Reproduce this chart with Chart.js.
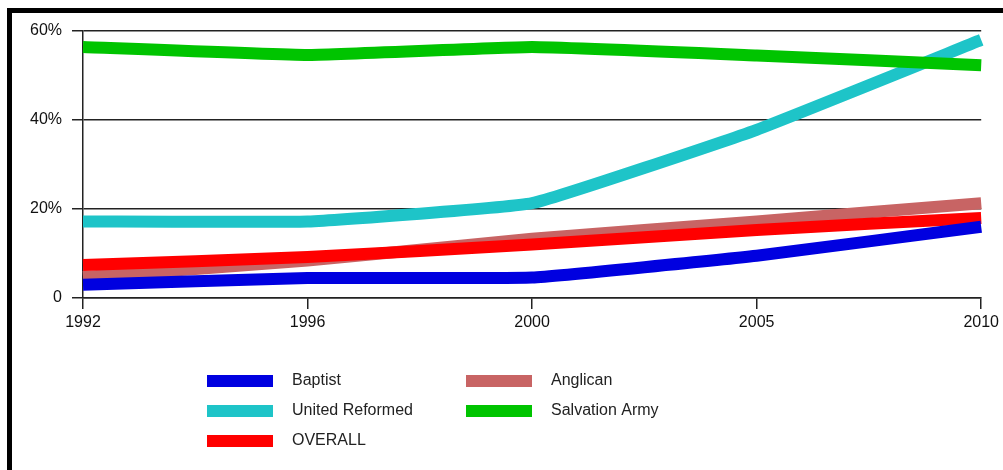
<!DOCTYPE html>
<html lang="en">
  <head>
    <meta charset="UTF-8" />
    <title>Denomination trend</title>
    <style>
      html,
      body {
        margin: 0;
        padding: 0;
        background: #fff;
        overflow: hidden;
      }
      #wrap {
        position: relative;
        width: 1003px;
        height: 470px;
      }
      #frame {
        position: absolute;
        left: 7px;
        top: 8px;
        right: 0;
        bottom: 0;
        border-left: 5px solid #000;
        border-top: 5px solid #000;
        pointer-events: none;
      }
    </style>
  </head>
  <body>
    <div id="wrap">
      <canvas id="myChart" width="1003" height="470"></canvas>
      <div id="frame"></div>
    </div>

    <script src="https://cdn.jsdelivr.net/npm/chart.js@4/dist/chart.umd.min.js"></script>
    <script>
      var years = ["1992", "1996", "2000", "2005", "2010"];

      var baptist = [3.0, 4.5, 4.6, 9.5, 16];
      var unitedReformed = [17.2, 17.2, 21.3, 37.8, 58];
      var overall = [7.4, 9.2, 12, 15.3, 18];
      var anglican = [4.7, 8.4, 13.3, 17.2, 21.3];
      var salvationArmy = [56.4, 54.6, 56.4, 54.5, 52.3];

      var yTicks = [0, 20, 40, 60];

      // legend drawn by hand: two columns, three rows
      var legendPlugin = {
        id: "sideLegend",
        afterDraw: function (chart) {
          var ctx = chart.ctx;
          var cols = [207, 466];
          var rows = [381, 411, 441];
          ctx.save();
          ctx.font = "16px 'Liberation Sans', Arial, sans-serif";
          ctx.textBaseline = "middle";
          chart.data.datasets.forEach(function (ds, i) {
            var x = cols[Math.floor(i / 3)];
            var y = rows[i % 3];
            ctx.fillStyle = ds.borderColor;
            ctx.fillRect(x, y - 6, 66, 12);
            ctx.fillStyle = "#222";
            ctx.fillText(ds.label, x + 85, y);
          });
          ctx.restore();
        },
      };

      function line(label, data, color, order) {
        return {
          label: label,
          data: data,
          borderColor: color,
          backgroundColor: color,
          borderWidth: 12,
          borderCapStyle: "butt",
          pointRadius: 0,
          tension: 0.1,
          fill: false,
          order: order,
        };
      }

      var ctx = document.getElementById("myChart").getContext("2d");
      var myChart = new Chart(ctx, {
        type: "line",
        data: {
          labels: years,
          datasets: [
            line("Baptist", baptist, "#0000e0", 1),
            line("United Reformed", unitedReformed, "#1ec4c8", 4),
            line("OVERALL", overall, "#ff0000", 2),
            line("Anglican", anglican, "#c86464", 5),
            line("Salvation Army", salvationArmy, "#00c400", 3),
          ],
        },
        options: {
          responsive: false,
          animation: false,
          layout: {
            padding: { left: 0, top: 31, right: 20, bottom: 132 },
          },
          plugins: {
            legend: { display: false },
            tooltip: { enabled: false },
          },
          scales: {
            x: {
              offset: false,
              grid: {
                drawOnChartArea: false,
                drawTicks: true,
                tickLength: 11,
                color: "#222",
                lineWidth: 1.5,
              },
              border: { display: true, color: "#222", width: 1.5 },
              ticks: {
                color: "#111",
                padding: 4,
                maxRotation: 0,
                font: { family: "'Liberation Sans', Arial, sans-serif", size: 16 },
              },
              afterFit: function (scale) {
                scale.height = 40;
              },
            },
            y: {
              min: yTicks[0],
              max: yTicks[yTicks.length - 1],
              afterBuildTicks: function (scale) {
                scale.ticks = yTicks.map(function (v) {
                  return { value: v };
                });
              },
              grid: {
                color: "#222",
                lineWidth: 1.5,
                tickLength: 11,
              },
              border: { display: true, color: "#222", width: 1.5 },
              ticks: {
                color: "#111",
                padding: 10,
                font: { family: "'Liberation Sans', Arial, sans-serif", size: 16 },
                callback: function (v) {
                  return v === 0 ? "0" : v + "%";
                },
              },
              afterFit: function (scale) {
                scale.width = 83;
              },
            },
          },
        },
        plugins: [legendPlugin],
      });
    </script>
  </body>
</html>
